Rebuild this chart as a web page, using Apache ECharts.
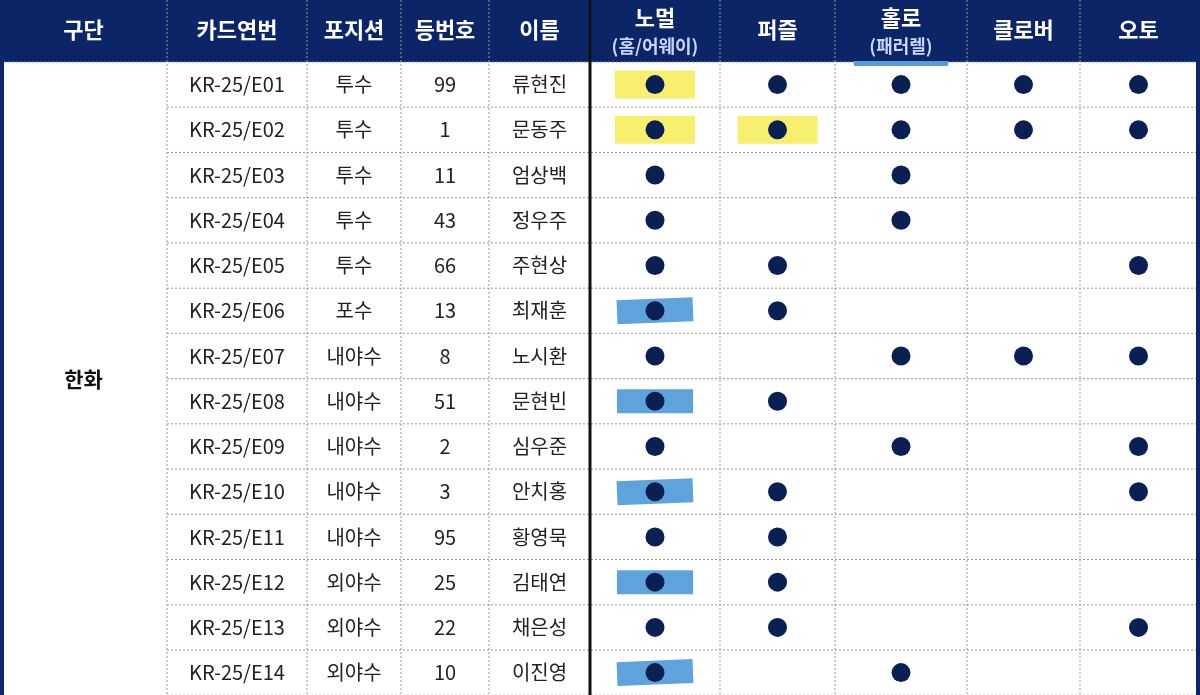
<!DOCTYPE html>
<html><head><meta charset="utf-8">
<script src="https://cdn.jsdelivr.net/npm/echarts@6/dist/echarts.min.js"></script>
<style>html,body{margin:0;padding:0;background:#fff}#main{width:1200px;height:695px}</style>
</head><body><div id="main"></div>
<script>
// table data
const headers = ['구단', '카드연번', '포지션', '등번호', '이름', '노멀', '퍼즐', '홀로', '클로버', '오토'];
const subHeaders = { 5: '(홈/어웨이)', 7: '(패러렐)' };
const team = '한화';
const cardNos = ['KR-25/E01','KR-25/E02','KR-25/E03','KR-25/E04','KR-25/E05','KR-25/E06','KR-25/E07',
  'KR-25/E08','KR-25/E09','KR-25/E10','KR-25/E11','KR-25/E12','KR-25/E13','KR-25/E14'];
const positions = ['투수','투수','투수','투수','투수','포수','내야수','내야수','내야수','내야수','내야수','외야수','외야수','외야수'];
const numbers = ['99','1','11','43','66','13','8','51','2','3','95','25','22','10'];
const names = ['류현진','문동주','엄상백','정우주','주현상','최재훈','노시환','문현빈','심우준','안치홍','황영묵','김태연','채은성','이진영'];
// 1 = card exists: 노멀, 퍼즐, 홀로, 클로버, 오토
const normal = [1,1,1,1,1,1,1,1,1,1,1,1,1,1];
const puzzle = [1,1,0,0,1,1,0,1,0,1,1,1,1,0];
const holo   = [1,1,1,1,0,0,1,0,1,0,0,0,0,1];
const clover = [1,1,0,0,0,0,1,0,0,0,0,0,0,0];
const auto   = [1,1,0,0,1,0,1,0,1,1,0,0,1,0];
// highlighted marks: [row, column]
const yellowMarks = [[0,5],[1,5],[1,6]];
const blueMarks = [[5,5],[7,5],[9,5],[11,5],[13,5]];

// layout
const colEdges = [0,167,307,401,489,590,720,835,967,1080,1197];
const headerH = 62, rowH = 45.23;
const colC = i => (colEdges[i] + colEdges[i+1]) / 2;
const rowC = r => headerH + rowH * (r + 0.5);
const navy = '#0b2566', dotColor = '#0a1f52';

const cellData = [];
const texts = [cardNos, positions, numbers, names];
for (let r = 0; r < cardNos.length; r++)
  for (let c = 1; c < 5; c++) cellData.push([c, r, texts[c-1][r]]);

const markCols = [normal, puzzle, holo, clover, auto];
const dots = [];
markCols.forEach((arr, k) => arr.forEach((v, r) => { if (v) dots.push([colC(5+k), rowC(r)]); }));

const chart = echarts.init(document.getElementById('main'));
const font = '"Noto Sans CJK KR", sans-serif';

chart.setOption({
  animation: false,
  grid: { left: 0, right: 0, top: 0, bottom: 0 },
  xAxis: { type: 'value', min: 0, max: 1200, show: false },
  yAxis: { type: 'value', min: 0, max: 695, inverse: true, show: false },
  series: [
    { // header + grid lines
      type: 'custom', coordinateSystem: 'cartesian2d', silent: true,
      data: [[0]],
      renderItem: (p, api) => {
        const ch = [];
        const bottom = api.coord([0, headerH + rowH * cardNos.length])[1];
        ch.push({ type: 'rect', shape: { x: 0, y: 0, width: 1200, height: headerH }, style: { fill: navy } });
        for (let r = 1; r <= cardNos.length; r++) {
          const y = api.coord([0, headerH + rowH * r])[1];
          ch.push({ type: 'line', shape: { x1: colEdges[1], y1: y, x2: 1197, y2: y }, style: { stroke: '#999', lineDash: [2, 2], lineWidth: 1 } });
        }
        ch.push({ type: 'line', shape: { x1: 0, y1: headerH, x2: 1197, y2: headerH }, style: { stroke: '#888', lineDash: [2, 2], lineWidth: 1 } });
        for (let c = 1; c < colEdges.length - 1; c++) {
          const x = colEdges[c];
          ch.push({ type: 'line', shape: { x1: x, y1: 0, x2: x, y2: bottom }, style: c === 5 ? { stroke: '#111', lineWidth: 3 } : { stroke: '#999', lineDash: [2, 2], lineWidth: 1 } });
        }
        ch.push({ type: 'rect', shape: { x: 0, y: 0, width: 4, height: 695 }, style: { fill: navy } });
        ch.push({ type: 'rect', shape: { x: 1196, y: 0, width: 4, height: 695 }, style: { fill: navy } });
        // header text
        headers.forEach((h, i) => {
          const sub = subHeaders[i];
          ch.push({ type: 'text', style: { text: h, x: colC(i), y: sub ? 18 : 30, align: 'center', verticalAlign: 'middle', fill: '#fff', font: 'bold 22px ' + font } });
          if (sub) {
            if (i === 7) ch.push({ type: 'rect', shape: { x: colC(i) - 47, y: 61, width: 94, height: 5 }, style: { fill: '#5b9bd5' } });
            ch.push({ type: 'text', style: { text: sub, x: colC(i), y: 46, align: 'center', verticalAlign: 'middle', fill: '#c9d6ff', font: 'bold 18px ' + font } });
          }
        });
        ch.push({ type: 'text', style: { text: team, x: colC(0), y: (headerH + bottom) / 2, align: 'center', verticalAlign: 'middle', fill: '#111', font: 'bold 21px ' + font } });
        return { type: 'group', children: ch };
      }
    },
    { // highlight strips
      type: 'custom', silent: true,
      data: yellowMarks.map(m => [m[0], m[1], 0]).concat(blueMarks.map(m => [m[0], m[1], 1])),
      renderItem: (p, api) => {
        const r = api.value(0), c = api.value(1), blue = api.value(2);
        const pt = api.coord([colC(c), rowC(r)]);
        const w = blue ? 76 : 80, h = blue ? 24 : 28;
        return { type: 'rect', shape: { x: pt[0] - w / 2, y: pt[1] - h / 2, width: w, height: h },
          rotation: blue && r % 4 === 1 ? 0.04 : 0, originX: pt[0], originY: pt[1],
          style: { fill: blue ? '#5fa3dc' : '#f7ef6e' } };
      }
    },
    { // cell text
      type: 'custom', silent: true,
      data: cellData,
      renderItem: (p, api) => {
        const pt = api.coord([colC(api.value(0)), rowC(api.value(1))]);
        return { type: 'text', style: { text: cellData[p.dataIndex][2], x: pt[0], y: pt[1], align: 'center', verticalAlign: 'middle', fill: '#222', font: '20px ' + font } };
      }
    },
    {
      type: 'scatter', symbol: 'circle', symbolSize: 19, silent: true,
      itemStyle: { color: dotColor, opacity: 1 }, data: dots
    }
  ]
});
</script></body></html>
